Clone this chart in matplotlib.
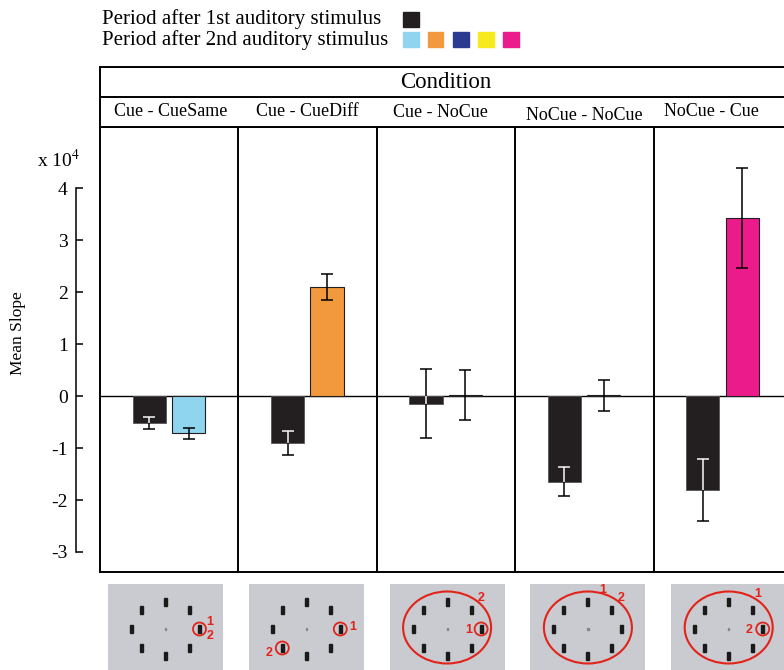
import numpy as np
import matplotlib
matplotlib.use("Agg")
import matplotlib.pyplot as plt
from matplotlib.patches import Rectangle, Ellipse

plt.rcParams['font.family'] = ['Liberation Serif', 'DejaVu Serif']
plt.rcParams['mathtext.fontset'] = 'stix'

W, H = 784, 670

conditions = ['Cue - CueSame', 'Cue - CueDiff', 'Cue - NoCue', 'NoCue - NoCue', 'NoCue - Cue']
label_x = [0.51, 0.5, 0.46, 0.5, 0.42]
label_y = [0.5, 0.52, 0.48, 0.4, 0.5]
first_vals = [-0.52, -0.90, -0.15, -1.65, -1.81]
first_err = [0.11, 0.23, 0.66, 0.28, 0.60]
second_vals = [-0.72, 2.10, 0.02, 0.01, 3.42]
second_err = [0.11, 0.25, 0.48, 0.29, 0.96]
second_colors = ['#8fd5f0', '#f3993d', '#2b3990', '#f6ea1c', '#ec1b8c']
first_color = '#231f20'
yticks = [-3, -2, -1, 0, 1, 2, 3, 4]

# stimulus sketches: small circles at marks, big circle or not, number labels
stim_small = [[(34, 0)], [(34, 0), (-24, 19)], [(34, 0)], [], [(34, 0)]]
stim_big = [False, False, True, True, True]
stim_labels = [[('1', 44, -7), ('2', 45, 7)],
               [('1', 46, -2), ('2', -37, 24)],
               [('2', 34, -31), ('1', 22, 1)],
               [('1', 15, -39), ('2', 33, -31)],
               [('1', 29, -35), ('2', 20, 1)]]


def rect(x0, y0, x1, y1):
    return [x0 / W, 1 - y1 / H, (x1 - x0) / W, (y1 - y0) / H]


fig = plt.figure(figsize=(W / 100, H / 100), dpi=100)
lw = 1.1

# main panel
ax = fig.add_axes(rect(100, 127, 792, 572))
ax.set_xlim(0, 5)
ax.set_ylim(-(572 - 396) / 52, (396 - 127) / 52)
x = np.arange(5)
b1 = ax.bar(x + 0.355, first_vals, 0.24, color=first_color, edgecolor='#555555', lw=0.6, zorder=2)
b2 = ax.bar(x + 0.64, second_vals, 0.24, color=second_colors, edgecolor=first_color, lw=0.8, zorder=2)
ax.errorbar(x + 0.355, first_vals, yerr=first_err, fmt='none', ecolor='black', elinewidth=lw,
            capsize=4.5, capthick=lw, zorder=3)
ax.errorbar(x + 0.64, second_vals, yerr=second_err, fmt='none', ecolor='black', elinewidth=lw,
            capsize=4.5, capthick=lw, zorder=3)
# white part of error bars inside the black bars
for i in range(5):
    eb = ax.errorbar([i + 0.355], [first_vals[i]], yerr=[first_err[i]], fmt='none', ecolor='white',
                     elinewidth=lw, capsize=4.5, capthick=lw, zorder=4)
    for art in list(eb.lines[1]) + list(eb.lines[2]):
        art.set_clip_path(b1.patches[i])

ax.axhline(0, color='black', lw=1.0, zorder=1)
for i in range(5):
    ax.axvline(i, color='black', lw=1.4, clip_on=False, zorder=5)
for s in ['top', 'bottom']:
    ax.spines[s].set_linewidth(1.4)
ax.spines['right'].set_visible(False)
ax.spines['left'].set_position(('outward', 17.3))
ax.spines['left'].set_bounds(-3, 4)
ax.spines['left'].set_linewidth(1.1)
ax.set_yticks(yticks)
ax.set_yticklabels([str(t) for t in yticks])
ax.tick_params(axis='y', direction='in', length=5, width=1.1, labelsize=14, pad=6)
ax.set_xticks([])

# header
hax = fig.add_axes(rect(100, 67, 792, 127))
hax.set_xlim(0, 5)
hax.set_ylim(0, 2)
hax.axhline(1, color='black', lw=1.4)
for s in ['top', 'left', 'bottom']:
    hax.spines[s].set_linewidth(1.4)
hax.spines['right'].set_visible(False)
hax.set_xticks([])
hax.set_yticks([])
hax.text(2.5, 1.48, 'Condition', ha='center', va='center', fontsize=16.5)
for i, c in enumerate(conditions):
    hax.text(i + label_x[i], label_y[i], c, ha='center', va='center', fontsize=13)

# legend
fig.text(102 / W, 1 - 19 / H, 'Period after 1st auditory stimulus', fontsize=15, va='center')
fig.text(102 / W, 1 - 40 / H, 'Period after 2nd auditory stimulus', fontsize=15, va='center')
fig.add_artist(Rectangle((403 / W, 1 - 27 / H), 15.5 / W, 15 / H, color=first_color,
                         transform=fig.transFigure))
for k, c in enumerate(second_colors):
    fig.add_artist(Rectangle(((403 + k * 25) / W, 1 - 47 / H), 15.5 / W, 15 / H, color=c,
                             transform=fig.transFigure))

fig.text(18 / W, 1 - 333 / H, 'Mean Slope', rotation=90, ha='center', va='center', fontsize=12.5)
fig.text(37 / W, 1 - 160 / H, r'x 10$^{4}$', fontsize=14, va='center')

# stimulus sketches
angles = np.deg2rad(np.arange(0, 360, 45))
for i in range(5):
    x0 = 108 + i * 140.8
    sax = fig.add_axes(rect(x0, 584, x0 + 115, 584 + 115))
    sax.set_xlim(-57.5, 57.5)
    sax.set_ylim(70, -45)
    sax.set_facecolor('#c9cbd0')
    for s in sax.spines.values():
        s.set_visible(False)
    sax.set_xticks([])
    sax.set_yticks([])
    for a in angles:
        mx, my = 34 * np.cos(a), 27 * np.sin(a)
        sax.add_patch(Rectangle((mx - 1.5, my - 4), 3, 8, color='#1a1a1a'))
    sax.add_patch(Rectangle((-0.6, -0.6), 1.2, 1.2, color='#888888'))
    for (cx, cy) in stim_small[i]:
        sax.add_patch(Ellipse((cx, cy), 13, 13, fill=False, ec='#e2231a', lw=1.3))
    if stim_big[i]:
        sax.add_patch(Ellipse((0, -1.5), 88, 72, fill=False, ec='#e2231a', lw=1.5))
    for (t, tx, ty) in stim_labels[i]:
        sax.text(tx, ty, t, color='#e2231a', fontsize=9, fontweight='bold',
                 family='Liberation Sans', ha='center', va='center')

fig.savefig('out.png', dpi=100)
